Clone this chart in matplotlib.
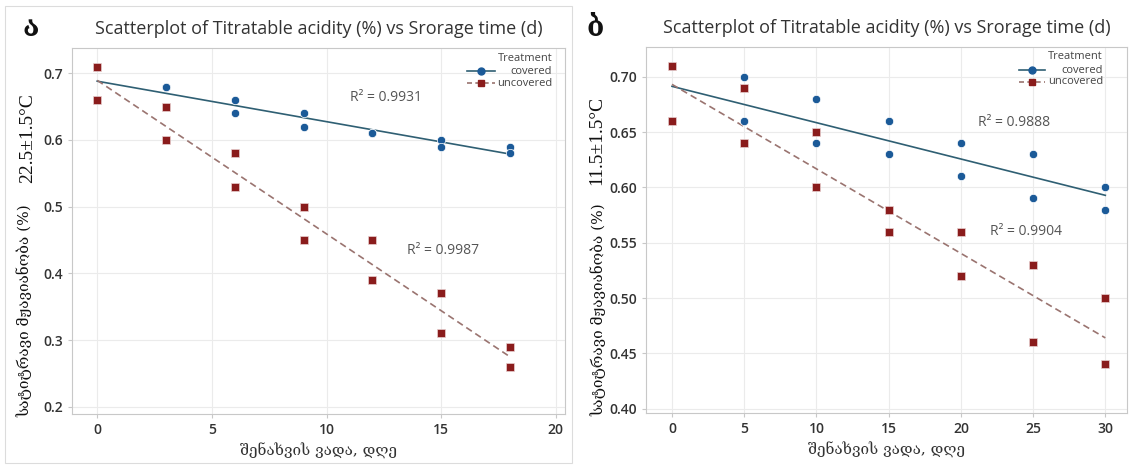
import numpy as np
import matplotlib.pyplot as plt
from matplotlib.patches import Rectangle

# storage days for each panel
days_a = [0, 0, 3, 3, 6, 6, 9, 9, 12, 12, 15, 15, 18, 18]
days_b = [0, 0, 5, 5, 10, 10, 15, 15, 20, 20, 25, 25, 30, 30]

# titratable acidity (%), 22.5 C
covered_a = [0.71, 0.66, 0.68, 0.68, 0.66, 0.64, 0.64, 0.62, 0.61, 0.61, 0.60, 0.59, 0.59, 0.58]
uncovered_a = [0.71, 0.66, 0.65, 0.60, 0.58, 0.53, 0.50, 0.45, 0.45, 0.39, 0.37, 0.31, 0.29, 0.26]

# titratable acidity (%), 11.5 C
covered_b = [0.71, 0.66, 0.70, 0.66, 0.68, 0.64, 0.66, 0.63, 0.64, 0.61, 0.63, 0.59, 0.60, 0.58]
uncovered_b = [0.71, 0.66, 0.69, 0.64, 0.65, 0.60, 0.58, 0.56, 0.56, 0.52, 0.53, 0.46, 0.50, 0.44]

r2_a = ["0.9931", "0.9987"]
r2_b = ["0.9888", "0.9904"]

title = "Scatterplot of Titratable acidity (%) vs Srorage time (d)"
ylabel = "სატიტრავი მჟავიანობა (%)"
xlabel = "შენახვის ვადა, დღე"
groups = ["covered", "uncovered"]

BLUE = "#1b5a98"
RED = "#8a1c1c"
LINE_BLUE = "#2f5f73"
LINE_RED = "#9a7470"
GEO = ["DejaVu Serif", "DejaVu Sans"]
SANS = ["Open Sans", "DejaVu Sans"]

W, H = 1136, 466
fig = plt.figure(figsize=(W / 100, H / 100), dpi=100)
fig.patches.append(Rectangle((5 / W, 3 / H), 567 / W, 457 / H,
                             transform=fig.transFigure, fill=False,
                             edgecolor="#dcdcdc", lw=0.8))


def px_axes(left, top, right, bottom):
    return fig.add_axes([left / W, 1 - bottom / H, (right - left) / W, (bottom - top) / H])


def legend(ax, hx, tx, rows):
    # Minitab-like legend: fixed handle column, labels flush right
    kw = dict(transform=ax.transAxes, clip_on=False)
    ax.text(tx, rows[0], "Treatment", ha="right", va="center", fontsize=8,
            color="#444444", family=SANS, **kw)
    styles = [(LINE_BLUE, "o", BLUE, "-"), (LINE_RED, "s", RED, (0, (3, 2)))]
    for name, y, (lc, m, mc, ls) in zip(groups, rows[1:], styles):
        ax.plot(hx, [y, y], color=lc, lw=1.2, ls=ls, **kw)
        ax.plot([sum(hx) / 2], [y], marker=m, ms=5, mfc=mc, mec=mc, **kw)
        ax.text(tx, y, name, ha="right", va="center", fontsize=8,
                color="#444444", family=SANS, **kw)


def panel(ax, x, cov, unc, r2, r2_pos, xlim, ylim, xticks, yticks, yfmt):
    x = np.asarray(x, float)
    ax.scatter(x, cov, s=36, marker="o", color=BLUE, edgecolor="white", lw=0.5, zorder=3)
    ax.scatter(x, unc, s=36, marker="s", color=RED, edgecolor="#e8d0d0", lw=0.5, zorder=4)

    xs = np.array([x.min(), x.max()])
    k, b = np.polyfit(x, cov, 1)
    ax.plot(xs, k * xs + b, color=LINE_BLUE, lw=1.2, zorder=2)
    k, b = np.polyfit(x, unc, 1)
    ax.plot(xs, k * xs + b, color=LINE_RED, lw=1.2, ls=(0, (4, 2.5)), zorder=2)

    for txt, (px, py) in zip(r2, r2_pos):
        ax.text(px, py, "R² = " + txt, ha="center", va="center",
                fontsize=10, color="#555555", family=SANS)

    ax.set_xlim(*xlim)
    ax.set_ylim(*ylim)
    ax.set_xticks(xticks)
    ax.set_yticks(yticks)
    ax.set_yticklabels([yfmt.format(v) for v in yticks])
    ax.grid(True, color="#ebebeb", lw=0.8)
    ax.set_axisbelow(True)
    for s in ax.spines.values():
        s.set_color("#c8c8c8")
    ax.tick_params(length=3, color="#c8c8c8", labelsize=10, labelcolor="#333333")
    for lab in ax.get_xticklabels() + ax.get_yticklabels():
        lab.set_family(SANS)
        lab.set_fontweight("semibold")

    ax.set_title(title, fontsize=13, color="#333333", family=SANS, pad=10)
    ax.set_xlabel(xlabel, fontsize=11, color="#333333", family=GEO, labelpad=4)


ax1 = px_axes(72, 48, 565, 414)
panel(ax1, days_a, covered_a, uncovered_a, r2_a, [(12.6, 0.664), (15.1, 0.434)],
      (-1.1, 20.4), (0.189, 0.738),
      [0, 5, 10, 15, 20], [0.2, 0.3, 0.4, 0.5, 0.6, 0.7], "{:.1f}")
legend(ax1, [0.801, 0.858], 0.974, [0.970, 0.937, 0.904])

ax2 = px_axes(646, 47, 1127, 413)
panel(ax2, days_b, covered_b, uncovered_b, r2_b, [(23.7, 0.659), (24.5, 0.560)],
      (-1.8, 31.5), (0.396, 0.727),
      [0, 5, 10, 15, 20, 25, 30], [0.40, 0.45, 0.50, 0.55, 0.60, 0.65, 0.70], "{:.2f}")
legend(ax2, [0.775, 0.830], 0.950, [0.973, 0.937, 0.905])

# panel letters and the rotated side labels
for letter, lx in [("ა", 31), ("ბ", 595)]:
    fig.text(lx / W, 1 - 28 / H, letter, fontsize=20, fontweight="bold",
             family=GEO, ha="center", va="center", color="#111111")
for tx, ty, temp in [(28, 138, "22.5±1.5°C"), (597, 140, "11.5±1.5°C")]:
    fig.text(tx / W, 1 - ty / H, temp, fontsize=14, family=["Liberation Serif", "DejaVu Serif"],
             rotation=90, ha="center", va="center", color="#111111")
for tx, ty in [(24, 311), (598, 310)]:
    fig.text(tx / W, 1 - ty / H, ylabel, fontsize=11, family=GEO,
             rotation=90, ha="center", va="center", color="#111111")

fig.savefig("out.png", dpi=100)
